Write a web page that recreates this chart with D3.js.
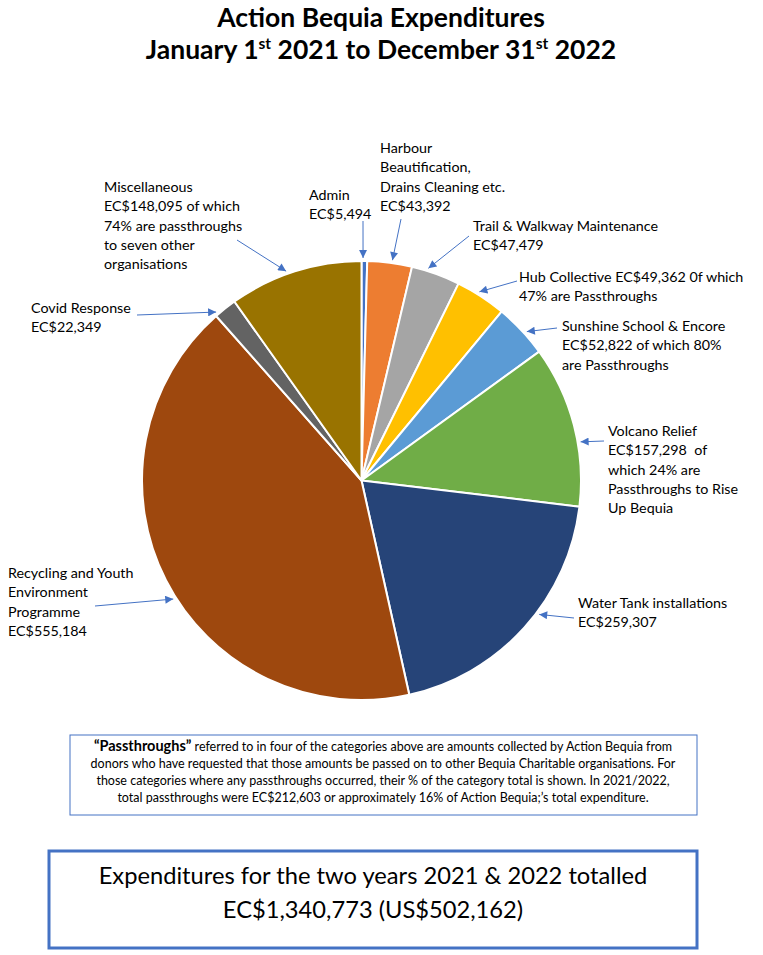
<!DOCTYPE html>
<html>
<head>
<meta charset="utf-8">
<script src="https://cdn.jsdelivr.net/npm/d3@7"></script>
<style>
  body { margin: 0; background: #fff; }
  text { font-family: Lato, "Open Sans", sans-serif; fill: #000; white-space: pre; }
</style>
</head>
<body>
<svg></svg>
<script>
// slices, clockwise from 12 o'clock
const categories = ['Admin', 'Harbour', 'Trail', 'Hub', 'Sunshine', 'Volcano', 'Water', 'Recycling', 'Covid', 'Misc'];
// misc slice as drawn in the picture is smaller than its label (~130k)
const values = [5494, 43392, 47479, 49362, 52822, 157298, 259307, 555184, 22349, 130000];
const colors = ['#4472C4', '#ED7D31', '#A5A5A5', '#FFC000', '#5B9BD5', '#70AD47', '#264478', '#9E480E', '#636363', '#997300'];
const labelText = [
   ['Admin', 'EC$5,494'],
   ['Harbour', 'Beautification,', 'Drains Cleaning etc.', 'EC$43,392'],
   ['Trail & Walkway Maintenance', 'EC$47,479'],
   ['Hub Collective EC$49,362 0f which', '47% are Passthroughs'],
   ['Sunshine School & Encore', 'EC$52,822 of which 80%', 'are Passthroughs'],
   ['Volcano Relief', 'EC$157,298  of', 'which 24% are', 'Passthroughs to Rise', 'Up Bequia'],
   ['Water Tank installations', 'EC$259,307'],
   ['Recycling and Youth', 'Environment', 'Programme', 'EC$555,184'],
   ['Covid Response', 'EC$22,349'],
   ['Miscellaneous', 'EC$148,095 of which', '74% are passthroughs', 'to seven other', 'organisations']
];
const noteLines = [
   ' referred to in four of the categories above are amounts collected by Action Bequia from',
   'donors who have requested that those amounts be passed on to other Bequia Charitable organisations. For',
   'those categories where any passthroughs occurred, their % of the category total is shown. In 2021/2022,',
   'total passthroughs were EC$212,603 or approximately 16% of Action Bequia;\u2019s total expenditure.'
];
const totalLines = ['Expenditures for the two years 2021 & 2022 totalled', 'EC$1,340,773 (US$502,162)'];

// label layout: text x, first line y, arrow tail, arrow angle on the rim (deg)
const labelPos = [
   {x: 309, y: 195, tail: [363, 221], ang: 0.4},
   {x: 380, y: 148, tail: [401, 219], ang: 8},
   {x: 473, y: 226, tail: [469, 236], ang: 17.5},
   {x: 519, y: 277, tail: [517, 281], ang: 32},
   {x: 562, y: 326, tail: [557, 328], ang: 48},
   {x: 608, y: 431, tail: [604, 441], ang: 80},
   {x: 578, y: 603, tail: [574, 618], ang: 127},
   {x: 8, y: 573, tail: [95, 606], ang: 237.8},
   {x: 31, y: 308, tail: [137, 315], ang: 319.2},
   {x: 104, y: 187, tail: [237, 240], ang: 340.2}
];

const WIDTH = 763, HEIGHT = 955,
      CX = 361.5, CY = 480.5, R = 219.5;

const svg = d3.select('svg').attr('width', WIDTH).attr('height', HEIGHT);

svg.append('defs').append('marker')
   .attr('id', 'head')
   .attr('viewBox', '0 0 10 10')
   .attr('refX', 10).attr('refY', 5)
   .attr('markerWidth', 9).attr('markerHeight', 8)
   .attr('markerUnits', 'userSpaceOnUse')
   .attr('orient', 'auto')
   .append('path').attr('d', 'M0,0L10,5L0,10Z').attr('fill', '#4472C4');

// title
const title = svg.append('g').attr('text-anchor', 'middle').attr('font-weight', 'bold').attr('font-size', 26.5);
title.append('text').attr('x', 381).attr('y', 27).text('Action Bequia Expenditures');
const t2 = title.append('text').attr('x', 381).attr('y', 59);
t2.append('tspan').text('January 1');
t2.append('tspan').attr('font-size', 15.5).attr('dy', -10).text('st');
t2.append('tspan').attr('dy', 10).text(' 2021 to December 31');
t2.append('tspan').attr('font-size', 15.5).attr('dy', -10).text('st');
t2.append('tspan').attr('dy', 10).text(' 2022');

// pie
const pie = d3.pie().sort(null).value(d => d)(values);
const arc = d3.arc().innerRadius(0).outerRadius(R);

const g = svg.append('g').attr('transform', `translate(${CX},${CY})`);
g.selectAll('path')
   .data(pie)
   .join('path')
   .attr('d', arc)
   .attr('fill', (d, i) => colors[i])
   .attr('stroke', '#fff')
   .attr('stroke-width', 2)
   .attr('stroke-linejoin', 'round');

// labels + arrows
const rim = a => [CX + (R + 3) * Math.sin(a * Math.PI / 180), CY - (R + 3) * Math.cos(a * Math.PI / 180)];

categories.forEach((c, i) => {
   const p = labelPos[i];
   const tip = rim(p.ang);
   svg.append('line')
      .attr('x1', p.tail[0]).attr('y1', p.tail[1])
      .attr('x2', tip[0]).attr('y2', tip[1])
      .attr('stroke', '#4472C4').attr('stroke-width', 1)
      .attr('marker-end', 'url(#head)');

   svg.append('text')
      .attr('font-size', 14.3)
      .selectAll('tspan')
      .data(labelText[i])
      .join('tspan')
      .attr('x', p.x)
      .attr('y', (d, k) => p.y + k * 19.3)
      .attr('dy', '0.35em')
      .text(d => d);
});

// passthroughs note
svg.append('rect')
   .attr('x', 70).attr('y', 735).attr('width', 627).attr('height', 80)
   .attr('fill', 'none').attr('stroke', '#4472C4').attr('stroke-width', 1);

const note = svg.append('g').attr('text-anchor', 'middle').attr('font-size', 12.5);
noteLines.forEach((l, k) => {
   const t = note.append('text').attr('x', 383).attr('y', 747 + k * 17).attr('dy', '0.35em');
   if (k === 0) t.append('tspan').attr('font-weight', 'bold').attr('font-size', 14.5).text('\u201cPassthroughs\u201d');
   t.append('tspan').text(l);
});

// total box
svg.append('rect')
   .attr('x', 49).attr('y', 851).attr('width', 648).attr('height', 97)
   .attr('fill', 'none').attr('stroke', '#4472C4').attr('stroke-width', 3);

svg.append('g').attr('text-anchor', 'middle').attr('font-size', 23.7)
   .selectAll('text')
   .data(totalLines)
   .join('text')
   .attr('x', 373)
   .attr('y', (d, k) => 876 + k * 34)
   .attr('dy', '0.35em')
   .text(d => d);
</script>
</body>
</html>
